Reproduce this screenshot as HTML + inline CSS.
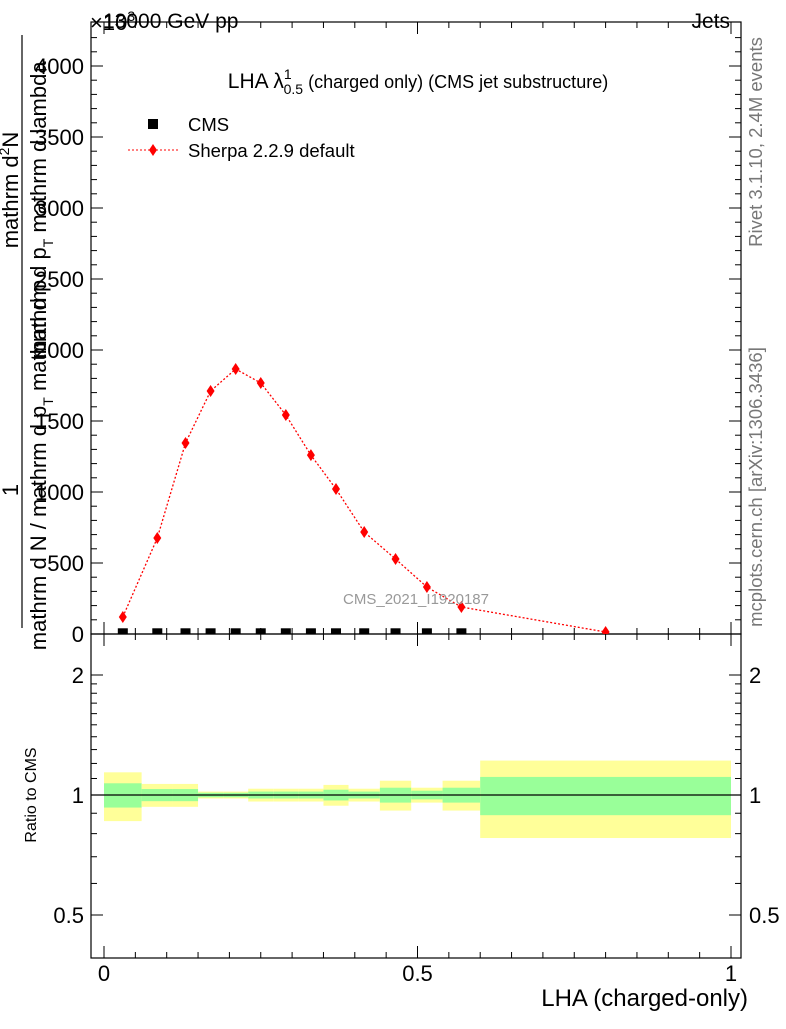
<!DOCTYPE html>
<html><head><meta charset="utf-8"><style>
body{margin:0;background:#fff;}
svg text{font-family:"Liberation Sans",sans-serif;}
</style></head><body>
<svg id="c" width="786" height="1024" xmlns="http://www.w3.org/2000/svg">
<defs><clipPath id="up"><rect x="91" y="22" width="650" height="612"/></clipPath></defs>
<g id="bands"></g>
<line x1="91" y1="795" x2="741" y2="795" stroke="#000" stroke-width="1.2"/>
<g id="axes" stroke="#000" fill="none">
<rect x="91" y="22" width="650" height="612" stroke-width="1.2"/>
<rect x="91" y="634" width="650" height="324" stroke-width="1.2"/>
</g>
<g id="ticks" stroke="#000" stroke-width="1"></g>
<g id="mc" clip-path="url(#up)"></g>
<g id="cms" clip-path="url(#up)"></g>
<g id="labels" font-size="22"></g>
<text x="90" y="30" font-size="22">×10<tspan font-size="14" dy="-9">3</tspan></text>
<text x="103" y="28" font-size="21">13000 GeV pp</text>
<text x="730" y="28" font-size="21" text-anchor="end">Jets</text>
<text x="418" y="88" font-size="21" text-anchor="middle">LHA λ<tspan font-size="14" dy="-9">1</tspan><tspan font-size="14" dx="-8" dy="15">0.5</tspan><tspan font-size="18" dy="-6"> (charged only) (CMS jet substructure)</tspan></text>
<g>
<rect x="148" y="119" width="10" height="10" fill="#000"/>
<text x="188" y="131" font-size="18.5">CMS</text>
<line x1="128" y1="150" x2="178" y2="150" stroke="red" stroke-dasharray="2,2"/>
<path d="M153,144 L157,150 L153,156 L149,150Z" fill="red"/>
<text x="188" y="157" font-size="18.5">Sherpa 2.2.9 default</text>
</g>
<text x="416" y="604" font-size="15" fill="#999" text-anchor="middle">CMS_2021_I1920187</text>
<text transform="translate(762,142) rotate(-90)" font-size="18.5" fill="#777" text-anchor="middle">Rivet 3.1.10,  2.4M events</text>
<text transform="translate(762,487) rotate(-90)" font-size="18.5" fill="#777" text-anchor="middle">mcplots.cern.ch [arXiv:1306.3436]</text>
<g font-size="22">
<line x1="22" y1="35" x2="22" y2="628" stroke="#000" stroke-width="1.2"/>
<text transform="translate(18,190) rotate(-90)" text-anchor="middle">mathrm d<tspan font-size="14" dy="-9">2</tspan><tspan dy="9">N</tspan></text>
<text transform="translate(46,210) rotate(-90)" text-anchor="middle">mathrm d p<tspan font-size="14" dy="7">T</tspan><tspan dy="-7"> mathrm d lambda</tspan></text>
<text transform="translate(18,490) rotate(-90)" text-anchor="middle">1</text>
<text transform="translate(46,465) rotate(-90)" text-anchor="middle">mathrm d N / mathrm d p<tspan font-size="14" dy="7">T</tspan><tspan dy="-7"> mathrm d p</tspan></text>
</g>
<text transform="translate(36,795) rotate(-90)" font-size="16" text-anchor="middle">Ratio to CMS</text>
<text x="748" y="1006" font-size="24" text-anchor="end">LHA (charged-only)</text>
</svg>
<script>
const edges=[0,0.06,0.11,0.15,0.19,0.23,0.27,0.31,0.35,0.39,0.44,0.49,0.54,0.60,1.0];
const sherpa=[120,676,1345,1711,1866,1768,1542,1260,1021,718,528,331,190,14];
const cms=[5,5,5,5,5,5,5,5,5,5,5,5,5];
const totErr=[0.14,0.066,0.066,0.02,0.02,0.037,0.037,0.037,0.06,0.037,0.086,0.043,0.086,0.22];
const statErr=[0.07,0.035,0.035,0.013,0.013,0.02,0.02,0.02,0.031,0.02,0.043,0.025,0.043,0.11];
const yTicks=[0,500,1000,1500,2000,2500,3000,3500,4000];
const rTicks=[0.5,1,2];
const xTicks=[0,0.5,1];
const xTickLabels=["0","0.5","1"];
const NS="http://www.w3.org/2000/svg";
const X=v=>104+v*627;
const Y=v=>634-v*0.142;
const R=r=>795-120*Math.log2(r);
function mk(t,a,p){const e=document.createElementNS(NS,t);for(const k in a)e.setAttribute(k,a[k]);p.appendChild(e);return e;}
const bands=document.getElementById('bands');
for(let i=0;i<totErr.length;i++){
 const x0=X(edges[i]),x1=X(edges[i+1]);
 const y=mk('rect',{x:x0,y:R(1+totErr[i]),width:x1-x0,height:R(1-totErr[i])-R(1+totErr[i]),fill:'#ffff99'},bands);
 
 
 const g=mk('rect',{x:x0,y:R(1+statErr[i]),width:x1-x0,height:R(1-statErr[i])-R(1+statErr[i]),fill:'#99ff99'},bands);
 
 
}
const mc=document.getElementById('mc');
const cen=[];for(let i=0;i<sherpa.length;i++)cen.push((edges[i]+edges[i+1])/2);
const pl=mk('polyline',{points:cen.map((c,i)=>X(c)+','+Y(sherpa[i])).join(' '),fill:'none',stroke:'red','stroke-width':1.3,'stroke-dasharray':'2,2'},mc);


cen.forEach((c,i)=>{const x=X(c),y=Y(sherpa[i]);
 const d=mk('path',{d:`M${x},${y-6}L${x+4},${y}L${x},${y+6}L${x-4},${y}Z`,fill:'red'},mc);
 
 
});
const cg=document.getElementById('cms');
cms.forEach((v,i)=>{
 const s=mk('rect',{x:X(cen[i])-5,y:Y(v)-5,width:10,height:10,fill:'#000'},cg);
 
 
});
const tk=document.getElementById('ticks'),lb=document.getElementById('labels');
function ln(x1,y1,x2,y2){mk('line',{x1,y1,x2,y2},tk);}
for(let v=0;v<=4200;v+=100){const y=Y(v);if(y<22)break;const L=v%500===0?12:6;ln(91,y,91+L,y);ln(741,y,741-L,y);}
yTicks.forEach(v=>{const t=mk('text',{x:84,y:Y(v)+8,'text-anchor':'end'},lb);t.textContent=v;
 
 });
for(let k=0;k<=20;k++){const v=k*0.05,x=X(v);const L=k%10===0?12:6;
 ln(x,634,x,634-L);ln(x,22,x,22+L);ln(x,958,x,958-L);ln(x,634,x,634+L);}
[0.5,0.6,0.7,0.8,0.9,1,1.1,1.2,1.3,1.4,1.5,1.6,1.7,1.8,1.9,2].forEach(r=>{const y=R(r);const L=(r===0.5||r===1||r===2)?12:6;ln(91,y,91+L,y);ln(741,y,741-L,y);});
rTicks.forEach(r=>{
 const a=mk('text',{x:84,y:R(r)+8,'text-anchor':'end'},lb);a.textContent=r;
 
 
 const b=mk('text',{x:749,y:R(r)+8},lb);b.textContent=r;
 
 });
xTicks.forEach((v,i)=>{const t=mk('text',{x:X(v),y:981,'text-anchor':'middle'},lb);t.textContent=xTickLabels[i];
 
 });
</script>
</body></html>
